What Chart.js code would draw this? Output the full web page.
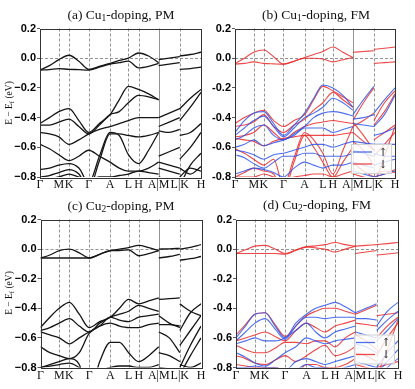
<!DOCTYPE html>
<html>
<head>
<meta charset="utf-8">
<script src="https://cdn.jsdelivr.net/npm/chart.js@4"></script>
<style>
body { margin: 0; background: #fff; width: 415px; height: 389px; overflow: hidden; position: relative; font-family: "Liberation Serif", serif; }
canvas { position: absolute; left: 0; top: 0; }
.ttl { position: absolute; font-size: 13.5px; line-height: 18px; color: #111; white-space: nowrap; transform: translateX(-50%); }
.ylab { position: absolute; font-size: 9.5px; color: #111; white-space: nowrap; transform: translate(-50%, -50%) rotate(-90deg); }
sub { font-size: 70%; vertical-align: -2px; line-height: 0; }
</style>
</head>
<body>
<canvas id="pa" width="415" height="389"></canvas>
<canvas id="pb" width="415" height="389"></canvas>
<canvas id="pc" width="415" height="389"></canvas>
<canvas id="pd" width="415" height="389"></canvas>

<div class="ttl" style="left:121px;top:6px">(a) Cu<sub>1</sub>-doping, PM</div>
<div class="ttl" style="left:316px;top:6px">(b) Cu<sub>1</sub>-doping, FM</div>
<div class="ttl" style="left:121px;top:197px">(c) Cu<sub>2</sub>-doping, PM</div>
<div class="ttl" style="left:317px;top:196px">(d) Cu<sub>2</sub>-doping, FM</div>
<div class="ylab" style="left:9px;top:103px">E − E<sub>f</sub> (eV)</div>
<div class="ylab" style="left:9px;top:293px">E − E<sub>f</sub> (eV)</div>

<script>
// k-path: Γ-M-K-Γ-A-L-H-A | M-L | K-H
const kPos = [0, 0.117, 0.180, 0.303, 0.435, 0.549, 0.612, 0.737, 0.868, 1.0];
const kLabels = ['Γ', 'M', 'K', 'Γ', 'A', 'L', 'H', 'A|M', 'L|K', 'H'];
// sample points along the path (segment Γ..A, then M..L, then K..H)
const kGrid = [0, 0.0585, 0.117, 0.180, 0.2415, 0.303, 0.369, 0.435, 0.492, 0.549, 0.612, 0.6745, 0.737,
               0.737, 0.8025, 0.868,
               0.868, 0.934, 1.0];
const yTicks = [0.2, 0.0, -0.2, -0.4, -0.6, -0.8];

// (a) Cu1-doping, PM
const bandsA = [
  [-0.08,-0.05,-0.01,0.02,-0.02,-0.075, -0.055,-0.035,-0.015,0.0,0.035,0.015,-0.03, -0.01,0.0,0.01, 0.015,0.025,0.04],
  [-0.08,-0.077,-0.07,-0.075,-0.077,-0.08, -0.06,-0.04,-0.03,-0.02,-0.065,-0.055,-0.035, -0.05,-0.04,-0.03, -0.075,-0.07,-0.06],
  [-0.44,-0.40,-0.36,-0.34,-0.42,-0.50, -0.44,-0.38,-0.28,-0.19,-0.21,-0.24,-0.28, -0.40,-0.37,-0.34, -0.34,-0.27,-0.21],
  [-0.45,-0.45,-0.43,-0.41,-0.46,-0.51, -0.45,-0.38,-0.36,-0.30,-0.25,-0.26,-0.28, -0.46,-0.43,-0.40, -0.42,-0.33,-0.23],
  [-0.50,-0.51,-0.53,-0.58,-0.55,-0.51, -0.48,-0.46,-0.44,-0.42,-0.40,-0.40,-0.40, -0.49,-0.50,-0.48, -0.52,-0.50,-0.44],
  [-0.58,-0.61,-0.65,-0.69,-0.66,-0.62, -0.66,-0.70,-0.74,-0.76,-0.76,-0.74,-0.70, -0.66,-0.63,-0.60, -0.68,-0.60,-0.50],
  [-0.75,-0.74,-0.72,-0.71,-0.74,-0.84, -0.66,-0.50,-0.52,-0.65,-0.71,-0.62,-0.50, -0.70,-0.72,-0.74, -0.86,-0.72,-0.64],
  [-0.80,-0.79,-0.77,-0.75,-0.78,-0.88, -0.69,-0.51,-0.51,-0.52,-0.53,-0.52,-0.50, -0.74,-0.76,-0.78, -0.74,-0.78,-0.73],
  [-0.82,-0.81,-0.80,-0.78,-0.80,-0.82, -0.80,-0.80,-0.79,-0.78,-0.76,-0.77,-0.78, -0.80,-0.82,-0.84, -0.80,-0.74,-0.76]
];

// (b) Cu1-doping, FM
const bandsBUp = [
  [-0.50,-0.42,-0.37,-0.36,-0.44,-0.52, -0.45,-0.37,-0.27,-0.18,-0.20,-0.25,-0.33, -0.38,-0.28,-0.19, -0.37,-0.28,-0.20],
  [-0.52,-0.47,-0.42,-0.39,-0.46,-0.53, -0.47,-0.40,-0.37,-0.33,-0.27,-0.30,-0.35, -0.41,-0.40,-0.38, -0.46,-0.38,-0.25],
  [-0.55,-0.52,-0.47,-0.45,-0.52,-0.55, -0.51,-0.46,-0.40,-0.37,-0.36,-0.37,-0.39, -0.44,-0.45,-0.46, -0.52,-0.50,-0.47],
  [-0.60,-0.58,-0.55,-0.59,-0.57,-0.55, -0.52,-0.47,-0.47,-0.47,-0.50,-0.48,-0.46, -0.56,-0.57,-0.58, -0.58,-0.58,-0.58],
  [-0.62,-0.63,-0.65,-0.68,-0.65,-0.64, -0.62,-0.60,-0.58,-0.58,-0.60,-0.58,-0.56, -0.62,-0.64,-0.66, -0.64,-0.66,-0.66],
  [-0.65,-0.67,-0.71,-0.74,-0.70,-0.66, -0.66,-0.64,-0.64,-0.66,-0.66,-0.66,-0.64, -0.70,-0.72,-0.74, -0.72,-0.70,-0.68],
  [-0.78,-0.76,-0.74,-0.75,-0.77,-0.80, -0.74,-0.70,-0.72,-0.74,-0.72,-0.72,-0.70, -0.76,-0.78,-0.80, -0.80,-0.78,-0.76]
];
const bandsBDown = [
  [-0.035,0.0,0.04,0.055,0.01,-0.04, -0.02,0.005,0.025,0.045,0.075,0.04,0.005, 0.04,0.045,0.05, 0.06,0.067,0.075],
  [-0.04,-0.035,-0.025,-0.035,-0.038,-0.04, -0.02,0.0,0.0,-0.005,-0.025,-0.01,0.005, null,null,null, -0.035,-0.03,-0.025],
  [-0.44,-0.40,-0.37,-0.35,-0.42,-0.46, -0.42,-0.38,-0.28,-0.19,-0.22,-0.26,-0.30, -0.42,-0.30,-0.20, -0.42,-0.30,-0.22],
  [-0.46,-0.45,-0.43,-0.38,-0.46,-0.50, -0.45,-0.41,-0.35,-0.30,-0.23,-0.28,-0.33, -0.46,-0.42,-0.37, -0.45,-0.36,-0.24],
  [-0.53,-0.52,-0.50,-0.45,-0.50,-0.55, -0.50,-0.46,-0.44,-0.43,-0.42,-0.43,-0.44, -0.43,-0.52,-0.62, -0.55,-0.50,-0.45],
  [-0.54,-0.55,-0.56,-0.59,-0.56,-0.54, -0.53,-0.52,-0.52,-0.52,-0.52,-0.51,-0.50, -0.50,-0.56,-0.62, -0.66,-0.58,-0.50],
  [-0.61,-0.64,-0.68,-0.72,-0.68,-0.86, -0.67,-0.50,-0.55,-0.64,-0.78,-0.62,-0.46, -0.56,-0.62,-0.72, -0.86,-0.66,-0.46],
  [-0.80,-0.77,-0.74,-0.76,-0.78,-0.90, -0.70,-0.52,-0.60,-0.70,-0.80,-0.70,-0.60, -0.70,-0.76,-0.80, -0.78,-0.76,-0.77],
  [-0.80,-0.80,-0.80,-0.78,-0.80,-0.82, -0.80,-0.79,-0.78,-0.78,-0.80,-0.78,-0.76, -0.78,-0.80,-0.82, -0.80,-0.78,-0.75]
];

// (c) Cu2-doping, PM
const bandsC = [
  [-0.06,-0.04,-0.01,0.0,-0.025,-0.06, -0.035,-0.01,0.0,0.01,0.025,0.01,-0.01, 0.0,0.002,0.005, 0.0,0.012,0.03],
  [-0.06,-0.06,-0.06,-0.06,-0.06,-0.06, -0.035,-0.01,-0.01,-0.005,-0.045,-0.03,-0.01, -0.06,-0.05,-0.035, -0.075,-0.065,-0.05],
  [-0.53,-0.46,-0.40,-0.36,-0.44,-0.53, -0.49,-0.46,-0.40,-0.34,-0.37,-0.35,-0.33, -0.34,-0.335,-0.33, -0.37,-0.42,-0.45],
  [-0.55,-0.53,-0.50,-0.47,-0.52,-0.56, -0.50,-0.46,-0.44,-0.42,-0.38,-0.40,-0.42, -0.51,-0.51,-0.52, -0.55,-0.43,-0.37],
  [-0.56,-0.58,-0.60,-0.64,-0.60,-0.56, -0.52,-0.46,-0.48,-0.49,-0.46,-0.45,-0.44, -0.45,-0.50,-0.53, -0.65,-0.55,-0.45],
  [-0.66,-0.70,-0.72,-0.74,-0.70,-0.57, -0.52,-0.50,-0.52,-0.53,-0.53,-0.51,-0.50, -0.56,-0.60,-0.70, -0.80,-0.65,-0.52],
  [-0.80,-0.78,-0.76,-0.74,-0.78,-0.98, -0.76,-0.63,-0.63,-0.70,-0.76,-0.72,-0.66, -0.70,-0.72,-0.76, -0.85,-0.72,-0.60],
  [-0.80,-0.79,-0.78,-0.77,-0.80,-0.84, -0.82,-0.80,-0.79,-0.79,-0.80,-0.80,-0.78, -0.80,-0.81,-0.82, -0.78,-0.80,-0.77]
];

// (d) Cu2-doping, FM
const bandsDUp = [
  [-0.60,-0.52,-0.44,-0.43,-0.52,-0.60, -0.50,-0.44,-0.40,-0.38,-0.36,-0.39,-0.43, -0.43,-0.40,-0.37, -0.52,-0.42,-0.36],
  [-0.62,-0.56,-0.50,-0.47,-0.54,-0.61, -0.52,-0.46,-0.46,-0.47,-0.46,-0.46,-0.46, -0.47,-0.47,-0.48, -0.55,-0.48,-0.42],
  [-0.64,-0.62,-0.60,-0.62,-0.62,-0.60, -0.55,-0.50,-0.56,-0.60,-0.56,-0.54,-0.52, -0.56,-0.58,-0.60, -0.62,-0.55,-0.47],
  [-0.70,-0.73,-0.77,-0.79,-0.75,-0.70, -0.66,-0.60,-0.62,-0.64,-0.62,-0.61,-0.60, -0.64,-0.66,-0.70, -0.80,-0.70,-0.62],
  [-0.80,-0.80,-0.79,-0.80,-0.80,-0.82, -0.76,-0.74,-0.76,-0.78,-0.76,-0.74,-0.72, -0.76,-0.78,-0.80, -0.84,-0.76,-0.68],
  [-0.82,-0.83,-0.84,-0.84,-0.84,-0.84, -0.82,-0.78,-0.80,-0.80,-0.82,-0.80,-0.78, -0.80,-0.82,-0.84, -0.90,-0.80,-0.74]
];
const bandsDDown = [
  [-0.03,-0.005,0.02,0.025,0.0,-0.03, -0.005,0.015,0.022,0.03,0.045,0.03,0.02, 0.02,0.025,0.03, 0.03,0.037,0.045],
  [-0.03,-0.03,-0.03,-0.03,-0.03,-0.035, -0.01,0.015,0.008,0.0,-0.02,0.0,0.02, -0.03,-0.02,-0.01, -0.04,-0.033,-0.025],
  [-0.58,-0.51,-0.44,-0.43,-0.51,-0.59, -0.52,-0.45,-0.42,-0.40,-0.40,-0.42,-0.44, -0.44,-0.41,-0.38, -0.45,-0.44,-0.43],
  [-0.62,-0.60,-0.58,-0.56,-0.59,-0.62, -0.55,-0.50,-0.53,-0.56,-0.52,-0.50,-0.48, -0.50,-0.51,-0.52, -0.60,-0.52,-0.46],
  [-0.65,-0.68,-0.70,-0.70,-0.67,-0.63, -0.63,-0.64,-0.62,-0.62,-0.66,-0.60,-0.56, -0.58,-0.62,-0.68, -0.72,-0.60,-0.50],
  [-0.72,-0.74,-0.77,-0.78,-0.75,-0.72, -0.76,-0.72,-0.68,-0.65,-0.72,-0.70,-0.66, -0.70,-0.72,-0.76, -0.86,-0.68,-0.48],
  [-0.78,-0.79,-0.80,-0.80,-0.80,-0.82, -0.84,-0.78,-0.78,-0.80,-0.80,-0.78,-0.74, -0.78,-0.80,-0.82, -0.80,-0.78,-0.76]
];

const BLACK = '#151515';
const BLUE = 'rgba(45, 85, 235, 0.85)';
const RED = 'rgba(235, 40, 40, 0.85)';

// break the line at A|M and L|K
function toPoints(vals) {
  const pts = [];
  vals.forEach((v, i) => {
    if (i === 13 || i === 16) pts.push({ x: kGrid[i], y: null });
    pts.push({ x: kGrid[i], y: v });
  });
  return pts;
}

function bandSets(list, color, width) {
  return list.map(b => ({
    data: toPoints(b),
    borderColor: color,
    borderWidth: width,
    pointRadius: 0,
    fill: false,
    cubicInterpolationMode: 'monotone'
  }));
}

// dashed guides, frame and the spin legend
const guides = {
  id: 'guides',
  beforeDatasetsDraw(chart) {
    const { ctx, chartArea: a, scales: { x, y } } = chart;
    ctx.save();
    ctx.lineWidth = 0.8;
    kPos.slice(1, -1).forEach((v, i) => {
      const px = Math.round(x.getPixelForValue(v)) + 0.5;
      ctx.strokeStyle = '#777';
      ctx.setLineDash(kLabels[i + 1] === 'A|M' ? [] : [3, 2]);
      ctx.beginPath();
      ctx.moveTo(px, a.top);
      ctx.lineTo(px, a.bottom);
      ctx.stroke();
    });
    const py = Math.round(y.getPixelForValue(0)) + 0.5;
    ctx.setLineDash([3, 2]);
    ctx.strokeStyle = '#777';
    ctx.beginPath();
    ctx.moveTo(a.left, py);
    ctx.lineTo(a.right, py);
    ctx.stroke();
    ctx.restore();
  },
  afterDraw(chart) {
    const { ctx, chartArea: a } = chart;
    ctx.save();
    if (chart.options.plugins.guides.spin) {
      const bx = a.right - 44, by = a.bottom - 33;
      ctx.fillStyle = 'rgba(255,255,255,0.8)';
      ctx.strokeStyle = '#d0d0d0';
      ctx.lineWidth = 1;
      ctx.fillRect(bx, by, 40, 29);
      ctx.strokeRect(bx + 0.5, by + 0.5, 40, 29);
      ctx.lineWidth = 1.3;
      ctx.strokeStyle = BLUE;
      ctx.beginPath(); ctx.moveTo(a.right - 42, a.bottom - 25); ctx.lineTo(a.right - 23, a.bottom - 25); ctx.stroke();
      ctx.strokeStyle = RED;
      ctx.beginPath(); ctx.moveTo(a.right - 42, a.bottom - 13); ctx.lineTo(a.right - 23, a.bottom - 13); ctx.stroke();
      ctx.fillStyle = '#111';
      ctx.font = '11px "DejaVu Serif"';
      ctx.textAlign = 'center';
      ctx.textBaseline = 'middle';
      ctx.fillText('↑', a.right - 12, a.bottom - 24);
      ctx.fillText('↓', a.right - 12, a.bottom - 12);
    }
    ctx.strokeStyle = '#333';
    ctx.lineWidth = 1;
    ctx.setLineDash([]);
    ctx.strokeRect(Math.round(a.left) + 0.5, Math.round(a.top) + 0.5,
      Math.round(a.right - a.left), Math.round(a.bottom - a.top));
    ctx.restore();
  }
};

function makePanel(id, area, datasets, minus, spin) {
  new Chart(document.getElementById(id), {
    type: 'line',
    data: { datasets: datasets },
    options: {
      responsive: false,
      animation: false,
      events: [],
      layout: { padding: { left: area.l - 30, top: area.t, right: 415 - area.r, bottom: 389 - area.b - 16 } },
      plugins: { legend: { display: false }, tooltip: { enabled: false }, guides: { spin: spin } },
      scales: {
        x: {
          type: 'linear', min: 0, max: 1,
          afterBuildTicks: s => { s.ticks = kPos.map(v => ({ value: v })); },
          afterFit: s => { s.height = 16; s.paddingLeft = 0; s.paddingRight = 0; },
          ticks: {
            autoSkip: false, maxRotation: 0, padding: 1, color: '#111',
            font: { family: '"Liberation Serif", serif', size: 12 },
            callback: (v, i) => kLabels[i]
          },
          grid: { display: false, drawTicks: false },
          border: { display: false }
        },
        y: {
          min: -0.8, max: 0.2,
          afterBuildTicks: s => { s.ticks = yTicks.map(v => ({ value: v })); },
          afterFit: s => { s.width = 30; s.paddingTop = 0; s.paddingBottom = 0; },
          ticks: {
            padding: 1, color: '#000',
            font: { family: '"Liberation Sans", sans-serif', size: 11, weight: 'bold' },
            callback: v => (v < -1e-9 ? minus : '') + Math.abs(v).toFixed(1)
          },
          grid: { drawOnChartArea: false, drawTicks: true, tickLength: 3, color: '#333', lineWidth: 0.8 },
          border: { display: false }
        }
      }
    },
    plugins: [guides]
  });
}

window.addEventListener('DOMContentLoaded', function () {
  makePanel('pa', { l: 40, t: 28.5, r: 201, b: 177 }, bandSets(bandsA, BLACK, 1.3), '−', false);
  makePanel('pb', { l: 235, t: 28.5, r: 395, b: 177 },
    bandSets(bandsBUp, BLUE, 1.1).concat(bandSets(bandsBDown, RED, 1.1)), '-', true);
  makePanel('pc', { l: 40.5, t: 219.5, r: 201, b: 367.5 }, bandSets(bandsC, BLACK, 1.3), '−', false);
  makePanel('pd', { l: 236, t: 219.5, r: 398, b: 367.5 },
    bandSets(bandsDUp, BLUE, 1.1).concat(bandSets(bandsDDown, RED, 1.1)), '-', true);
});
</script>
</body>
</html>
